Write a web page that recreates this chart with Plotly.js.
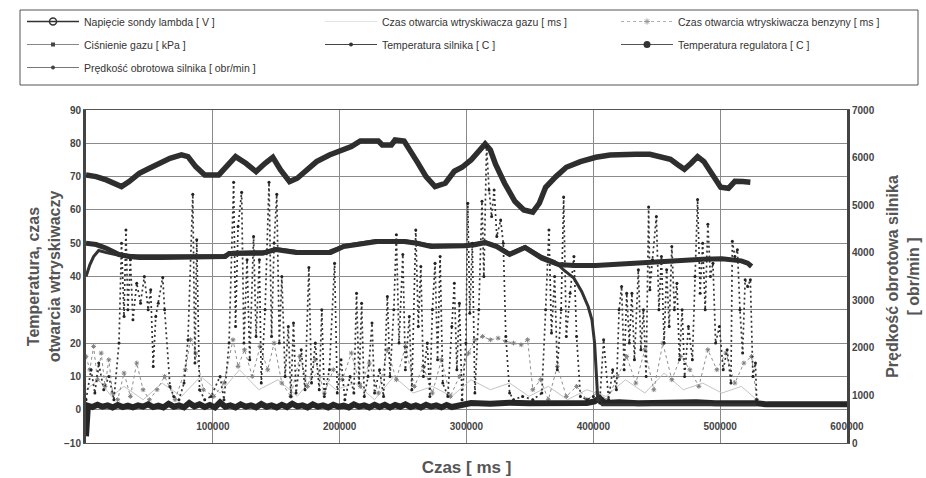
<!DOCTYPE html>
<html><head><meta charset="utf-8">
<script src="https://cdn.plot.ly/plotly-3.0.1.min.js"></script>
<style>html,body{margin:0;padding:0;background:#fff;}#chart{width:926px;height:478px;}</style>
</head><body><div id="chart"></div>
<script>
// ---- series names ----
const names = [
  "Napięcie sondy lambda [ V ]",
  "Czas otwarcia wtryskiwacza gazu [ ms ]",
  "Czas otwarcia wtryskiwacza benzyny [ ms ]",
  "Ciśnienie gazu [ kPa ]",
  "Temperatura silnika [ C ]",
  "Temperatura regulatora [ C ]",
  "Prędkość obrotowa silnika [ obr/min ]"
];
const xTickVals = [100000, 200000, 300000, 400000, 500000, 600000];
const xTickText = ["100000", "200000", "300000", "400000", "500000", "600000"];

// ---- Temperatura silnika [C] ----
const tsX = [0, 8000, 16000, 22000, 28000, 34000, 42000, 50000, 58000, 66200,
  75300, 80400, 86500, 93600, 104700, 110800, 117900, 126000, 134100, 141200,
  147300, 153400, 160500, 166600, 173700, 181800, 191900, 201100, 209200, 216300,
  230500, 233600, 240700, 243700, 250800, 261000, 268100, 275200, 283300, 290400,
  296500, 303600, 309700, 314700, 318800, 322900, 330000, 338100, 345200, 352300,
  357400, 362400, 370500, 378700, 389800, 402000, 413200, 423300, 433500, 444600,
  452700, 460800, 466900, 471800, 477100, 482200, 487200, 493300, 500400, 506500,
  511600, 517700, 523800];
const tsV = [70.5, 70, 69, 68, 67, 68.5, 71, 72.5, 74, 75.5,
  76.5, 76, 73, 70.5, 70.5, 73, 76, 74, 71.5, 74,
  75.8, 72, 68.5, 69.5, 72, 74.5, 76.5, 77.6, 79, 80.7,
  80.7, 79.5, 79.5, 81, 80.7, 74.5, 70, 67, 68, 71.6,
  72.8, 75, 77.5, 79.8, 78, 73.7, 68, 62.6, 60, 59.3,
  62, 66.8, 70, 72.8, 74.5, 75.8, 76.5, 76.7, 76.7, 76.7,
  76, 75.2, 73.5, 72.2, 74, 76, 74.5, 71, 66.8, 66.5,
  68.6, 68.5, 68.3];

// ---- Temperatura regulatora [C] ----
const trX = [0, 8000, 16000, 26000, 34000, 42000, 60100, 80400, 100700, 109800,
  112800, 126000, 139200, 149400, 157500, 165600, 181800, 192900, 203100, 216300,
  229500, 250800, 261000, 272100, 288400, 298500, 306600, 314700, 323900, 334000,
  346200, 359400, 372600, 384700, 402000, 415200, 431400, 445600, 457800, 472000,
  486200, 501400, 516700, 521700, 524800];
const trV = [50, 49.6, 48.5, 46.6, 46, 45.7, 45.7, 45.7, 45.8, 46,
  46.9, 47, 47, 48.1, 47.5, 47.2, 47.2, 47.2, 49, 49.8,
  50.5, 50.5, 50, 49, 49, 49.2, 49.5, 50.2, 49, 46.6,
  48.7, 45.5, 43.6, 43.3, 43.3, 43.6, 44.2, 44.5, 44.8, 45.1,
  45.2, 45.3, 44.7, 44, 43];

// ---- Ciśnienie gazu [kPa] ----
const cgX = [0, 3000, 6000, 10000, 16000, 24000, 40000, 80400, 108800, 115900,
  141200, 151400, 166600, 191900, 204100, 228500, 250800, 273100, 298500, 314700,
  323900, 334000, 346200, 359400, 369500, 376600, 384700, 390800, 395900, 398900,
  401000, 402500, 403500, 407100, 528800];
const cgV = [40, 43.5, 46, 47.8, 47.2, 46.5, 46.2, 46.2, 46.3, 47.3,
  47.5, 48.3, 47.5, 47.6, 49.3, 50.8, 50.8, 49.3, 49.4, 50.5,
  49.3, 47, 49, 46, 44.5, 42, 39.5, 35.5, 31, 27,
  20, 10, 3, 1.5, 1.5];

// ---- Napięcie sondy lambda [V] ----
const lamX = [0, 1500, 5000, 9000, 13000, 17000, 21000, 25000, 29000, 33000,
  37000, 41000, 45000, 49000, 53000, 57000, 61000, 65100, 69200, 73300,
  77300, 81400, 85400, 89500, 93600, 97600, 101700, 105700, 109800, 113800,
  117900, 121900, 126000, 130100, 134100, 138200, 142300, 146300, 150400, 154400,
  158500, 162600, 166600, 170700, 174700, 178800, 182800, 186900, 190900, 195000,
  199100, 203100, 207200, 211200, 215300, 219400, 223400, 227500, 231500, 235600,
  239700, 243700, 247800, 251800, 255900, 260000, 264000, 268100, 272100, 276200,
  280200, 284300, 288400, 293400, 303600, 318800, 334000, 349200, 364500, 379700,
  394900, 401000, 405000, 409100, 420300, 435500, 450700, 465900, 481100, 496400,
  511600, 521700, 528800, 536900, 600000];
const lamV = [-8, 1.2, 0.8, 1.5, 0.9, 1.3, 0.7, 1.4, 0.8, 1.2,
  0.7, 1.3, 0.9, 1.6, 0.8, 1.2, 0.7, 1.8, 0.9, 1.3,
  0.7, 2.0, 1.0, 1.6, 0.8, 1.4, 0.7, 2.2, 0.9, 1.3,
  0.7, 1.6, 0.9, 1.3, 0.7, 1.7, 0.9, 1.3, 0.7, 1.5,
  0.8, 1.8, 1.0, 1.3, 0.7, 1.6, 0.9, 1.3, 0.7, 1.5,
  0.9, 1.2, 0.7, 1.6, 0.9, 1.3, 0.7, 1.5, 0.8, 1.5,
  0.7, 1.4, 0.9, 1.6, 0.8, 1.3, 0.7, 1.5, 0.9, 1.3,
  0.7, 1.4, 0.8, 1.2, 2.0, 1.8, 2.1, 1.9, 2.0, 2.2,
  2.0, 2.5, 3.5, 2.0, 2.2, 1.9, 2.1, 2.0, 2.2, 1.9,
  2.1, 2.0, 1.9, 1.6, 1.6];

// ---- Czas otwarcia wtryskiwacza gazu [ms] ----
const gazX = [0, 10000, 20000, 30000, 45000, 60000, 75300, 90500, 105700, 121000,
  136200, 151400, 166600, 181800, 197000, 212300, 227500, 242700, 257900, 273100,
  288400, 303600, 318800, 334000, 349200, 364500, 379700, 394900, 410100, 425300,
  440600, 455800, 471000, 486200, 501400, 516700, 528800];
const gazV = [6, 9, 4, 7, 3, 8, 4, 10, 5, 12,
  6, 9, 4, 11, 6, 8, 3, 10, 5, 7,
  4, 9, 6, 8, 4, 7, 3, 6, 4, 9,
  5, 11, 6, 8, 5, 7, 3];

// ---- Czas otwarcia wtryskiwacza benzyny [ms] ----
const benzX = [0, 3000, 6000, 9000, 12000, 15000, 18000, 21000, 25000, 30000,
  35000, 40000, 45000, 50000, 56000, 62000, 70200, 78300, 82400, 86500,
  92500, 100700, 108800, 115900, 119900, 125000, 131100, 137200, 143300, 148300,
  154400, 161500, 168600, 174700, 180800, 187900, 195000, 202100, 209200, 216300,
  223400, 230500, 237600, 244700, 251800, 258900, 266000, 273100, 280200, 287300,
  294400, 301600, 306600, 312700, 318800, 324900, 331000, 337100, 343100, 348200,
  352300, 358400, 364500, 371600, 378700, 386800, 394900, 403000, 411100, 419200,
  426300, 433500, 440600, 447700, 454800, 461900, 469000, 476100, 483200, 490300,
  497400, 504500, 511600, 518700, 524800, 528800];
const benzV = [16, 12, 19, 9, 17, 7, 15, 5, 3, 11,
  4, 14, 6, 3, 6, 10, 3, 12, 21, 17,
  6, 4, 8, 21, 13, 18, 10, 19, 12, 20,
  8, 4, 16, 7, 15, 5, 12, 9, 17, 7,
  14, 5, 18, 9, 19, 7, 13, 5, 15, 4,
  10, 17, 21, 22, 21, 21.5, 20.5, 20, 19.5, 21,
  6, 9, 3, 13, 4, 7, 3, 5, 3, 10,
  16, 8, 18, 6, 20, 9, 16, 12, 7, 18,
  12, 17, 8, 14, 16, 3];

// ---- Prędkość obrotowa silnika [obr/min] (right axis) ----
const rpmX = [0, 4000, 7000, 10000, 14000, 18000, 22000, 26000, 28000, 30000,
  31500, 33000, 35000, 37000, 40000, 43000, 46000, 49000, 51000, 53000,
  55000, 57000, 60500, 62000, 66200, 69200, 73300, 77300, 80400, 84200,
  85900, 87300, 89500, 93600, 98600, 105700, 108800, 112800, 116400, 117900,
  119900, 122700, 124500, 127000, 129100, 132100, 134100, 136700, 138200, 141200,
  144300, 146300, 148300, 150400, 152400, 154400, 157000, 159500, 161500, 163600,
  165600, 169700, 172700, 175700, 177800, 180800, 183900, 185900, 187900, 191900,
  196000, 198100, 201100, 204100, 208200, 211200, 213300, 215300, 217300, 219400,
  222400, 225500, 227500, 231500, 234600, 237600, 239700, 242700, 244700, 246800,
  249800, 251800, 254900, 256900, 260000, 262000, 264000, 266000, 269100, 271100,
  273100, 275200, 277200, 279200, 281300, 285300, 288400, 290400, 292400, 294400,
  296500, 299500, 301000, 302600, 304600, 306600, 309700, 312200, 313700, 315800,
  317800, 319800, 321800, 323900, 326900, 329000, 331000, 334000, 337100, 344200,
  352300, 359400, 362400, 365000, 367000, 369500, 371600, 374600, 376600, 378700,
  381700, 384700, 386800, 389800, 394900, 400000, 405000, 408100, 412100, 415200,
  418200, 420300, 422300, 424300, 426300, 428400, 430400, 432400, 435500, 437500,
  439500, 441600, 443600, 444600, 446600, 449700, 451700, 453700, 455800, 457800,
  459800, 461900, 463900, 465900, 467900, 470000, 472000, 475000, 478100, 480100,
  482200, 484200, 486200, 488200, 490300, 492300, 494300, 496400, 499400, 502400,
  505500, 508500, 509600, 511600, 513600, 515600, 517700, 519700, 521700, 523800,
  525800, 527800, 528800];
const rpmV = [910, 1540, 1050, 1680, 1120, 1400, 910, 2100, 4200, 2660,
  4480, 2800, 3850, 2590, 3360, 2940, 3500, 2800, 3220, 1610,
  2660, 2940, 3480, 2800, 1190, 980, 910, 1260, 2170, 5230,
  1680, 4270, 1120, 910, 980, 1400, 910, 2100, 5480, 2450,
  4550, 5270, 2100, 3850, 1750, 4340, 2240, 3850, 1260, 2800,
  5480, 2240, 4200, 5230, 2100, 3500, 1400, 2450, 980, 2520,
  1050, 1960, 1120, 3690, 1260, 2100, 1120, 2800, 980, 1540,
  3780, 1050, 1750, 910, 1400, 1050, 3150, 1260, 2940, 980,
  1400, 2520, 1050, 1540, 980, 3080, 1400, 2800, 4380, 2100,
  3960, 1540, 2660, 1120, 4480, 2450, 3710, 1400, 2100, 980,
  2800, 3780, 1750, 3920, 1260, 980, 2450, 3360, 1540, 2940,
  910, 2100, 5040, 2730, 4200, 1050, 2800, 5080, 3500, 6230,
  5320, 4760, 5320, 4340, 4690, 4200, 2240, 1050, 910, 980,
  910, 1050, 2800, 4480, 2310, 3500, 1540, 2800, 5170, 2240,
  3150, 3920, 2240, 980, 910, 980, 840, 2170, 910, 1540,
  1120, 2800, 3290, 1540, 3150, 2100, 3150, 1750, 3640, 1960,
  2800, 1400, 4960, 3220, 3850, 4760, 2800, 3920, 2100, 3640,
  2450, 4130, 2800, 3360, 1750, 2800, 1400, 2450, 1750, 3500,
  5120, 3150, 4200, 2800, 4600, 3500, 3780, 2100, 2450, 1540,
  1960, 1260, 4240, 3920, 4060, 2800, 1890, 3430, 3290, 3430,
  1400, 1680, 910];

const FONT = "Liberation Sans, Arial, Helvetica, sans-serif";

function legendEntry(i, leg, grp, style) {
  return Object.assign({x: [null], y: [null], type: 'scatter', name: names[i],
    legend: leg, legendgroup: grp, showlegend: true}, style);
}

const traces = [
  {x: gazX, y: gazV, type: 'scatter', mode: 'lines', showlegend: false, hoverinfo: 'skip',
   line: {color: '#c4c4c4', width: 1}},
  {x: benzX, y: benzV, type: 'scatter', mode: 'lines+markers', showlegend: false, hoverinfo: 'skip',
   line: {color: '#8e8e8e', width: 1, dash: 'dot'},
   marker: {symbol: 'asterisk-open', size: 4, color: '#808080', line: {color: '#808080', width: 1}}},
  {x: lamX, y: lamV, type: 'scatter', mode: 'lines', showlegend: false, hoverinfo: 'skip',
   line: {color: '#262626', width: 6}},
  {x: cgX, y: cgV, type: 'scatter', mode: 'lines', showlegend: false, hoverinfo: 'skip',
   line: {color: '#333', width: 3}},
  {x: trX, y: trV, type: 'scatter', mode: 'lines', showlegend: false, hoverinfo: 'skip',
   line: {color: '#2e2e2e', width: 5}},
  {x: tsX, y: tsV, type: 'scatter', mode: 'lines', showlegend: false, hoverinfo: 'skip',
   line: {color: '#2e2e2e', width: 5.5}},
  {x: rpmX, y: rpmV, type: 'scatter', mode: 'lines+markers', yaxis: 'y2', showlegend: false, hoverinfo: 'skip',
   line: {color: '#333', width: 1.7, dash: '2px,3px'},
   marker: {symbol: 'circle', size: 3, color: '#222'}},
  // legend entries (3 columns)
  legendEntry(0, 'legend', 'a', {mode: 'lines+markers',
   line: {color: '#333', width: 1.5}, marker: {symbol: 'circle-open', size: 7, color: '#333', line: {width: 1.5}}}),
  legendEntry(3, 'legend', 'b', {mode: 'lines+markers',
   line: {color: '#888', width: 1}, marker: {symbol: 'square', size: 4, color: '#444'}}),
  legendEntry(6, 'legend', 'c', {mode: 'lines+markers',
   line: {color: '#777', width: 1}, marker: {symbol: 'circle', size: 4, color: '#444'}}),
  legendEntry(1, 'legend2', 'd', {mode: 'lines',
   line: {color: '#e4e4e4', width: 1}}),
  legendEntry(4, 'legend2', 'e', {mode: 'lines+markers',
   line: {color: '#444', width: 1.2}, marker: {symbol: 'circle', size: 4, color: '#333'}}),
  legendEntry(2, 'legend3', 'f', {mode: 'lines+markers',
   line: {color: '#b0b0b0', width: 1, dash: 'dot'}, marker: {symbol: 'asterisk-open', size: 5, color: '#999', line: {color: '#999', width: 1}}}),
  legendEntry(5, 'legend3', 'g', {mode: 'lines+markers',
   line: {color: '#555', width: 1.2}, marker: {symbol: 'circle', size: 7, color: '#333'}})
];

const tickFont = {family: FONT, size: 10, color: '#444', weight: 'bold'};
const titleFont = {family: FONT, size: 16, color: '#555', weight: 'bold'};
const legFont = {family: FONT, size: 10.5, color: '#333'};

// plot area: x 86..847, y 110..443
const PL = 86, PW = 761, PT = 110, PH = 333;
const px2x = p => (p - PL) / PW;
const py2y = p => (PT + PH - p) / PH;

function legendBox(xpx) {
  return {orientation: 'v', x: px2x(xpx), y: py2y(7), xanchor: 'left', yanchor: 'top',
    bgcolor: 'rgba(0,0,0,0)', borderwidth: 0, font: legFont,
    traceorder: 'grouped', tracegroupgap: 4, itemwidth: 52};
}

const layout = {
  width: 926, height: 478,
  margin: {l: PL, r: 926 - PL - PW, t: PT, b: 478 - PT - PH, autoexpand: false},
  paper_bgcolor: '#ffffff', plot_bgcolor: '#ffffff',
  font: {family: FONT, color: '#333'},
  showlegend: true,
  legend: legendBox(22),
  legend2: legendBox(320),
  legend3: legendBox(616),
  shapes: [{type: 'rect', xref: 'paper', yref: 'paper', x0: px2x(20), x1: px2x(918), y0: py2y(85), y1: py2y(10),
    line: {color: '#555', width: 1}, fillcolor: 'rgba(0,0,0,0)', layer: 'below'}],
  xaxis: {
    range: [0, 600000], tickvals: xTickVals, ticktext: xTickText,
    ticklabelposition: 'inside', ticklabelstandoff: 10, ticklabeloverflow: 'allow',
    ticks: '', showgrid: true, gridcolor: '#8a8a8a', gridwidth: 1,
    showline: true, linecolor: '#555', linewidth: 1, mirror: true, zeroline: false,
    tickfont: tickFont,
    title: {text: 'Czas [ ms ]', font: {family: FONT, size: 17, color: '#555', weight: 'bold'}, standoff: 30}
  },
  yaxis: {
    range: [-10, 90], tick0: -10, dtick: 10, ticks: '',
    showgrid: true, gridcolor: '#8a8a8a', gridwidth: 1,
    showline: true, linecolor: '#444', linewidth: 3, zeroline: false,
    tickfont: tickFont,
    title: {text: 'Temperatura, czas<br>otwarcia wtryskiwaczy', font: titleFont, standoff: 0}
  },
  yaxis2: {
    overlaying: 'y', side: 'right', range: [0, 7000], dtick: 1000, ticks: '',
    showgrid: false, showline: true, linecolor: '#444', linewidth: 3, zeroline: false,
    tickfont: tickFont,
    title: {text: 'Prędkość obrotowa silnika<br>[ obr/min ]', font: titleFont, standoff: 14}
  }
};

Plotly.newPlot('chart', traces, layout, {staticPlot: true, displayModeBar: false});
</script>
</body></html>
